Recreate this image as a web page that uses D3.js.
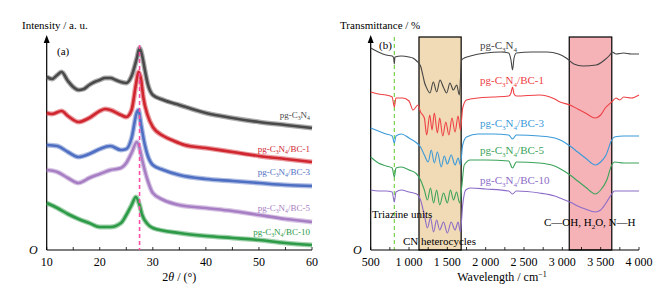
<!DOCTYPE html>
<html>
<head>
<meta charset="utf-8">
<script src="https://cdn.jsdelivr.net/npm/d3@7"></script>
<style>
  body { margin: 0; background: #fff; }
  text { font-family: "Liberation Serif", "Times New Roman", "DejaVu Serif", serif; }
</style>
</head>
<body>
<svg id="chart" width="672" height="290" font-family="Liberation Serif, DejaVu Serif, serif"></svg>
<script>
// ---- data (a) XRD ----
const xrdTicks = [10, 20, 30, 40, 50, 60];
const xrdNames = ["pg-C3N4", "BC-1", "BC-3", "BC-5", "BC-10"];
const xrdGray = [[10,173],[11,171],[12,175],[12.8,178],[14,169],[15,163],[16,160],[17,161],[18,165],[19,168],[20,170],[21,172],[22,172],[23,170],[24,168],[25,167],[26,174],[27,192],[27.5,202],[28,194],[28.5,180],[29,167],[30,155],[32,150],[35,145],[40,137],[45,132],[50,128],[55,125],[60,122]];
const xrdRed = [[10,137],[11,136],[12.8,139],[14,134],[16,128],[18,132],[20,139],[21,141],[22,140],[24,135],[25,133],[26,140],[26.8,165],[27.3,178],[27.8,170],[28.2,153],[29,135],[30,123],[32,114],[34,109],[36,105],[40,102],[45,98],[50,94],[55,91],[60,88]];
const xrdBlue = [[10,105],[12,104],[14,98],[16,93],[18,96],[20,101],[22,104],[24,100],[25,101],[26,112],[27,138],[27.3,140],[27.8,125],[28.5,105],[29,95],[30,85],[32,80],[35,75],[40,71],[45,69],[50,67],[55,65],[60,64]];
const xrdPurple = [[10,80],[12,78],[14,72],[16,67],[17,69],[18,72],[20,76],[22,80],[24,82],[25,87],[26,97],[27,108],[27.5,102],[28,90],[29,70],[30,57],[32,50],[35,45],[40,42],[45,39],[50,35],[55,31],[60,28]];
const xrdGreen = [[10,47],[12,42],[14,36],[16,31],[18,27],[20,23],[22,23],[24,27],[25,35],[26,45],[26.8,53],[27.5,45],[28,35],[29,26],[30,22],[35,17],[40,14],[45,12],[50,10],[55,7],[60,5]];
const xrdPeak = 27.5;

// ---- data (b) FTIR ----
const irTicks = [500, 1000, 1500, 2000, 2500, 3000, 3500, 4000];
const irGray = [[500,202],[600,198],[700,195],[780,194],[800,192],[808,186],[816,193],[900,194],[1000,193],[1050,192],[1100,189],[1150,184],[1180,175],[1200,168],[1230,162],[1273,157],[1317,168],[1361,158],[1404,170],[1447,163],[1491,157],[1534,167],[1578,160],[1622,165],[1656,155],[1687,190],[1720,192],[1800,194],[2000,197],[2200,198],[2300,197],[2330,190],[2350,180],[2370,192],[2400,197],[2600,198],[2800,198],[2950,196],[3050,192],[3150,186],[3270,184],[3440,185],[3550,190],[3620,195],[3650,198],[3700,196],[3800,197],[3900,196],[4000,196]];
const irRed = [[500,158],[600,156],[700,155],[780,153],[808,143],[830,152],[920,152],[1000,149],[1052,140],[1117,145],[1150,138],[1200,132],[1230,115],[1270,135],[1300,120],[1330,137],[1370,117],[1400,132],[1440,114],[1480,128],[1520,115],[1560,132],[1600,118],[1640,134],[1670,120],[1700,142],[1750,150],[1900,152],[2100,153],[2300,154],[2330,157],[2350,163],[2370,156],[2400,154],[2700,155],[2900,151],[2970,148],[3100,145],[3200,141],[3300,137],[3426,132],[3500,135],[3560,142],[3644,148],[3700,152],[3750,150],[3800,153],[3900,152],[4000,155]];
const irBlue = [[500,122],[600,119],[700,116],[780,114],[808,107],[830,114],[900,116],[1000,112],[1100,107],[1150,103],[1200,95],[1250,88],[1290,100],[1330,87],[1370,98],[1420,83],[1460,94],[1500,86],[1550,95],[1600,85],[1640,92],[1670,85],[1700,105],[1750,113],[1900,116],[2100,116],[2300,115],[2350,111],[2400,115],[2700,114],[2900,112],[3000,109],[3100,104],[3200,98],[3300,92],[3430,85],[3500,88],[3570,95],[3644,110],[3680,113],[3800,114],[4000,114]];
const irGreen = [[500,93],[600,87],[700,84],[780,82],[808,73],[830,82],[900,83],[1000,80],[1100,76],[1150,70],[1200,60],[1240,50],[1280,62],[1320,47],[1360,60],[1400,45],[1450,57],[1500,47],[1540,60],[1580,50],[1620,58],[1660,47],[1690,65],[1720,85],[1800,90],[2000,90],[2300,89],[2350,82],[2400,88],[2700,87],[2900,84],[3000,80],[3100,75],[3200,69],[3300,63],[3430,56],[3500,60],[3580,70],[3644,85],[3680,88],[3800,87],[4000,87]];
const irPurple = [[500,60],[600,59],[700,59],[780,58],[808,48],[830,58],[900,60],[1000,58],[1100,56],[1150,50],[1200,35],[1240,22],[1280,32],[1320,18],[1360,30],[1400,20],[1450,28],[1500,17],[1550,28],[1600,20],[1640,28],[1670,18],[1700,45],[1740,60],[1800,62],[2000,61],[2300,59],[2350,56],[2400,59],[2700,57],[2900,54],[3000,51],[3100,48],[3200,44],[3300,41],[3430,38],[3500,40],[3570,47],[3644,56],[3680,59],[3800,59],[4000,59]];
const irTriazine = 808;
const irCNBand = [1130, 1680];
const irOHBand = [3090, 3645];

const svg = d3.select("#chart");
const plotTop = 37, plotBottom = 250;
const serif = "Liberation Serif, DejaVu Serif, serif";

function txt(g, x, y, size) {
    return g.append("text")
        .attr("x", x).attr("y", y)
        .attr("font-family", serif)
        .attr("font-size", size);
}

function subLabel(g, x, y, suffix, color, size, anchor) {
    const t = txt(g, x, y, size)
        .attr("fill", color)
        .attr("text-anchor", anchor);
    t.append("tspan").text("pg-C");
    t.append("tspan").attr("dy", size * 0.25).attr("font-size", size * 0.65).text("3");
    t.append("tspan").attr("dy", -size * 0.25).text("N");
    t.append("tspan").attr("dy", size * 0.25).attr("font-size", size * 0.65).text("4");
    t.append("tspan").attr("dy", -size * 0.25).text(suffix);
}

function drawAxes(x, ticks, minorStep, fmt) {
    const [x0, x1] = x.range();
    const g = svg.append("g");
    const lo = x.domain()[0], hi = x.domain()[1];
    for (let v = lo; v <= hi + 1e-9; v += minorStep) {
        g.append("line")
            .attr("x1", x(v)).attr("x2", x(v))
            .attr("y1", plotBottom).attr("y2", plotBottom - 3)
            .attr("stroke", "#000").attr("stroke-width", 0.8);
    }
    g.append("line").attr("x1", x0).attr("x2", x1).attr("y1", plotBottom).attr("y2", plotBottom)
        .attr("stroke", "#000").attr("stroke-width", 1.2);
    g.append("line").attr("x1", x0).attr("x2", x0).attr("y1", plotBottom).attr("y2", plotTop + 2)
        .attr("stroke", "#000").attr("stroke-width", 1.2);
    g.append("path")
        .attr("d", `M${x0},${plotTop - 2} L${x0 - 3},${plotTop + 6} L${x0 + 3},${plotTop + 6} Z`)
        .attr("fill", "#000");
    ticks.forEach(d => {
        txt(g, x(d), plotBottom + 16, 12).attr("text-anchor", "middle").text(fmt(d));
    });
    txt(g, x0 - 9, plotBottom + 4, 12).attr("text-anchor", "end").attr("font-style", "italic").text("O");
}

// ================= (a) =================
const xA = d3.scaleLinear().domain([10, 60]).range([46.7, 312]);
const yA = d3.scaleLinear().domain([0, 213]).range([plotBottom, plotTop]);
const lineA = d3.line().x(d => xA(d[0])).y(d => yA(d[1])).curve(d3.curveMonotoneX);

const xrdSeries = [
    { data: xrdGray, color: "#4a4a4a", name: xrdNames[0], ly: 118 },
    { data: xrdRed, color: "#d0262f", name: xrdNames[1], ly: 152 },
    { data: xrdBlue, color: "#4f6fc2", name: xrdNames[2], ly: 175 },
    { data: xrdPurple, color: "#a77ec4", name: xrdNames[3], ly: 211 },
    { data: xrdGreen, color: "#2d9a47", name: xrdNames[4], ly: 235 }
];

drawAxes(xA, xrdTicks, 5, d => d);

xrdSeries.slice().reverse().forEach(s => {
    // wide faint band for the noisy trace, then the core line
    svg.append("path").datum(s.data)
        .attr("d", lineA)
        .attr("fill", "none")
        .attr("stroke", s.color)
        .attr("stroke-opacity", 0.45)
        .attr("stroke-width", 5)
        .attr("stroke-linejoin", "round");
    svg.append("path").datum(s.data)
        .attr("d", lineA)
        .attr("fill", "none")
        .attr("stroke", s.color)
        .attr("stroke-width", 2.6)
        .attr("stroke-linejoin", "round");
});

svg.append("line")
    .attr("x1", xA(xrdPeak)).attr("x2", xA(xrdPeak))
    .attr("y1", plotTop + 8).attr("y2", plotBottom)
    .attr("stroke", "#ff4da6").attr("stroke-width", 1.6)
    .attr("stroke-dasharray", "4,3");

const labA = svg.append("g");
xrdSeries.forEach(s => {
    subLabel(labA, 310, s.ly, s.name === "pg-C3N4" ? "" : "/" + s.name, s.color, 9, "end");
});

txt(svg, 22, 29, 11).text("Intensity / a. u.");
txt(svg, 57, 55, 11).text("(a)");
const tA = txt(svg, xA(35), plotBottom + 31, 12).attr("text-anchor", "middle");
tA.append("tspan").text("2");
tA.append("tspan").attr("font-style", "italic").text("θ");
tA.append("tspan").text(" / (°)");

// ================= (b) =================
const xB = d3.scaleLinear().domain([500, 4000]).range([370.7, 639]);
const yB = d3.scaleLinear().domain([0, 213]).range([plotBottom, plotTop]);
const lineB = d3.line().x(d => xB(d[0])).y(d => yB(d[1])).curve(d3.curveMonotoneX);

[irCNBand, irOHBand].forEach((b, i) => {
    svg.append("rect")
        .attr("x", xB(b[0])).attr("y", plotTop)
        .attr("width", xB(b[1]) - xB(b[0]))
        .attr("height", plotBottom - plotTop)
        .attr("fill", i === 0 ? "#f1dbb6" : "#f5b3b8")
        .attr("stroke", "#000").attr("stroke-width", 1.2);
});

svg.append("line")
    .attr("x1", xB(irTriazine)).attr("x2", xB(irTriazine))
    .attr("y1", plotTop).attr("y2", plotBottom)
    .attr("stroke", "#6ccc3a").attr("stroke-width", 1.1)
    .attr("stroke-dasharray", "4,3");

drawAxes(xB, irTicks, 250, d => d >= 1000 ? d3.format(",")(d).replace(",", " ") : String(d));

const irSeries = [
    { data: irGray, color: "#444444", name: "pg-C3N4", ly: 49 },
    { data: irRed, color: "#ee4044", name: "BC-1", ly: 84 },
    { data: irBlue, color: "#3b9ad9", name: "BC-3", ly: 127 },
    { data: irGreen, color: "#3aa35a", name: "BC-5", ly: 154 },
    { data: irPurple, color: "#8c6cc8", name: "BC-10", ly: 184 }
];

irSeries.forEach(s => {
    svg.append("path").datum(s.data)
        .attr("d", lineB)
        .attr("fill", "none")
        .attr("stroke", s.color)
        .attr("stroke-width", 1.1);
});

const labB = svg.append("g");
irSeries.forEach(s => {
    subLabel(labB, 480, s.ly, s.name === "pg-C3N4" ? "" : "/" + s.name, s.color, 11, "start");
});

txt(svg, 340, 29, 11).text("Transmittance / %");
txt(svg, 379, 49, 11).text("(b)");
txt(svg, 372, 218, 11).text("Triazine units");
txt(svg, 403, 245, 11).text("CN heterocycles");
const oh = txt(svg, 544, 226, 11);
oh.append("tspan").text("C—OH, H");
oh.append("tspan").attr("dy", 3).attr("font-size", 7).text("2");
oh.append("tspan").attr("dy", -3).text("O, N—H");

const tB = txt(svg, 502, plotBottom + 31, 12).attr("text-anchor", "middle");
tB.append("tspan").text("Wavelength / cm");
tB.append("tspan").attr("dy", -4).attr("font-size", 8).text("−1");
</script>
</body>
</html>
